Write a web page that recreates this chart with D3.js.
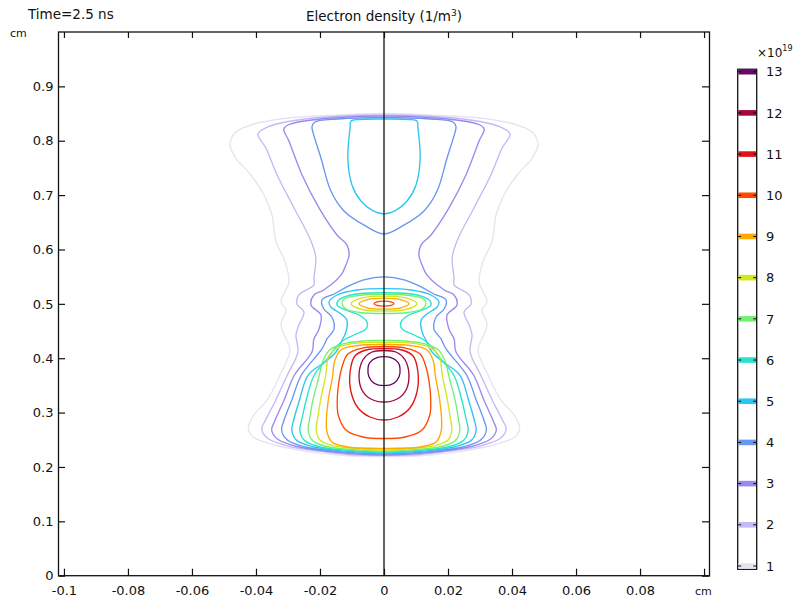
<!DOCTYPE html>
<html>
<head>
<meta charset="utf-8">
<script src="https://cdn.jsdelivr.net/npm/d3@7/dist/d3.min.js"></script>
<style>
body { margin: 0; background: #fff; }
text { font-family: "DejaVu Sans", sans-serif; fill: #111; }
</style>
</head>
<body>
<div id="chart"></div>
<script>
// tick values / labels (last x label is replaced by the unit "cm")
var xTicks = [-0.1, -0.08, -0.06, -0.04, -0.02, 0, 0.02, 0.04, 0.06, 0.08, 0.1];
var xTickLabels = ["-0.1", "-0.08", "-0.06", "-0.04", "-0.02", "0", "0.02", "0.04", "0.06", "0.08", ""];
var yTicks = [0, 0.1, 0.2, 0.3, 0.4, 0.5, 0.6, 0.7, 0.8, 0.9];
var yTickLabels = ["0", "0.1", "0.2", "0.3", "0.4", "0.5", "0.6", "0.7", "0.8", "0.9"];

// contour levels (x10^19 1/m3) and colours
var levels = [1, 2, 3, 4, 5, 6, 7, 8, 9, 10, 11, 12, 13];
var levelColors = ["#e6e3f2", "#c6b8f4", "#9c88f0", "#6a96f2", "#2cc4f2", "#26e4cc",
  "#74f070", "#d4e61e", "#ffa800", "#ff4a00", "#e01418", "#a0083e", "#680a6a"];

// contour shapes: right half [r (cm), z (cm)], from top on axis to bottom on axis
var c1 = [[0, 0.8501], [0.0175, 0.8464], [0.0313, 0.8409], [0.0416, 0.8289], [0.0466, 0.8142], [0.0481, 0.7921],
  [0.0463, 0.7682], [0.0416, 0.7369], [0.0375, 0.7002], [0.0350, 0.6635], [0.0338, 0.6157], [0.0309, 0.5771],
  [0.0297, 0.5403], [0.0313, 0.5181], [0.0322, 0.5034], [0.0306, 0.4887], [0.0322, 0.4630], [0.0313, 0.4446],
  [0.0294, 0.4151], [0.0325, 0.3691], [0.0365, 0.3232], [0.0406, 0.2956], [0.0424, 0.2717], [0.0409, 0.2551],
  [0.0353, 0.2422], [0.0250, 0.2294], [0.0125, 0.2211], [0, 0.2192]];
var c2 = [[0, 0.8473], [0.0269, 0.8381], [0.0363, 0.8253], [0.0394, 0.8123], [0.0369, 0.7866], [0.0334, 0.7369],
  [0.0281, 0.6764], [0.0228, 0.6157], [0.0213, 0.5845], [0.0219, 0.5477], [0.0219, 0.5348], [0.0266, 0.5163],
  [0.0272, 0.4997], [0.0250, 0.4850], [0.0266, 0.4611], [0.0275, 0.4427], [0.0269, 0.4114], [0.0302, 0.3691],
  [0.0338, 0.3232], [0.0370, 0.2864], [0.0382, 0.2698], [0.0365, 0.2533], [0.0300, 0.2385], [0.0206, 0.2294],
  [0.0113, 0.2229], [0, 0.2211]];
var c3 = [[0, 0.8455], [0.0238, 0.8372], [0.0300, 0.8289], [0.0313, 0.8216], [0.0297, 0.7994], [0.0256, 0.7369],
  [0.0203, 0.6764], [0.0147, 0.6267], [0.0116, 0.6084], [0.0109, 0.5900], [0.0119, 0.5716], [0.0134, 0.5532],
  [0.0188, 0.5255], [0.0219, 0.5163], [0.0228, 0.4979], [0.0197, 0.4795], [0.0203, 0.4538], [0.0219, 0.4354],
  [0.0225, 0.4114], [0.0280, 0.3691], [0.0312, 0.3232], [0.0340, 0.2864], [0.0351, 0.2680], [0.0333, 0.2514],
  [0.0272, 0.2376], [0.0175, 0.2284], [0, 0.2220]];
var c4top = [[0, 0.8428], [0.0144, 0.8400], [0.0216, 0.8344], [0.0225, 0.8253], [0.0222, 0.8160], [0.0197, 0.7682],
  [0.0166, 0.7076], [0.0125, 0.6709], [0.0063, 0.6451], [0, 0.6285]];
var c4low = [[0, 0.5495], [0.0063, 0.5440], [0.0116, 0.5311], [0.0156, 0.5181], [0.0194, 0.5071], [0.0188, 0.4905],
  [0.0163, 0.4758], [0.0156, 0.4538], [0.0178, 0.4354], [0.0194, 0.4170], [0.0258, 0.3691], [0.0288, 0.3232],
  [0.0312, 0.2864], [0.0320, 0.2680], [0.0302, 0.2496], [0.0245, 0.2367], [0.0130, 0.2275], [0, 0.2238]];
var c5top = [[0, 0.8400], [0.0081, 0.8391], [0.0103, 0.8363], [0.0106, 0.8234], [0.0113, 0.7682], [0.0100, 0.7186],
  [0.0072, 0.6892], [0.0034, 0.6709], [0, 0.6653]];
var c5low = [[0, 0.5279], [0.0084, 0.5255], [0.0147, 0.5163], [0.0172, 0.5034], [0.0166, 0.4942], [0.0134, 0.4813],
  [0.0116, 0.4703], [0.0119, 0.4482], [0.0134, 0.4298], [0.0150, 0.4114], [0.0185, 0.3930], [0.0237, 0.3691],
  [0.0264, 0.3232], [0.0282, 0.2864], [0.0288, 0.2680], [0.0274, 0.2496], [0.0225, 0.2376], [0.0120, 0.2290],
  [0, 0.2257]];
var c6 = [[0, 0.5205], [0.0103, 0.5163], [0.0141, 0.5071], [0.0147, 0.4979], [0.0119, 0.4887], [0.0078, 0.4795],
  [0.0053, 0.4666], [0.0056, 0.4538], [0.0094, 0.4427], [0.0125, 0.4335], [0.0147, 0.4225], [0.0180, 0.3967],
  [0.0218, 0.3691], [0.0243, 0.3232], [0.0257, 0.2864], [0.0263, 0.2680], [0.0250, 0.2496], [0.0205, 0.2376],
  [0.0110, 0.2303], [0, 0.2275]];
var c7mid = [[0, 0.5177], [0.0081, 0.5154], [0.0125, 0.5089], [0.0131, 0.4997], [0.0119, 0.4905], [0.0075, 0.4841], [0, 0.4823]];
var c7low = [[0, 0.4326], [0.0066, 0.4317], [0.0128, 0.4262], [0.0170, 0.4151], [0.0192, 0.3930], [0.0202, 0.3691],
  [0.0222, 0.3232], [0.0233, 0.2864], [0.0237, 0.2680], [0.0225, 0.2496], [0.0180, 0.2376], [0.0090, 0.2317], [0, 0.2294]];
var c8mid = [[0, 0.5141], [0.0073, 0.5101], [0.0103, 0.5003], [0.0073, 0.4905], [0, 0.4865]];
var c8low = [[0, 0.4289], [0.0081, 0.4280], [0.0140, 0.4206], [0.0172, 0.4041], [0.0182, 0.3691], [0.0198, 0.3232],
  [0.0208, 0.2864], [0.0212, 0.2680], [0.0200, 0.2496], [0.0160, 0.2394], [0.0080, 0.2335], [0, 0.2312]];
var c9mid = [[0, 0.5104], [0.0055, 0.5074], [0.0078, 0.5003], [0.0055, 0.4932], [0, 0.4902]];
var c9low = [[0, 0.4252], [0.0081, 0.4234], [0.0135, 0.4151], [0.0155, 0.3930], [0.0160, 0.3691], [0.0174, 0.3232],
  [0.0180, 0.2864], [0.0178, 0.2643], [0.0163, 0.2459], [0.0113, 0.2367], [0, 0.2340]];
var c10mid = [[0, 0.5049], [0.0022, 0.5036], [0.0031, 0.5003], [0.0022, 0.4970], [0, 0.4957]];
var c10low = [[0, 0.4216], [0.0066, 0.4188], [0.0113, 0.4077], [0.0132, 0.3820], [0.0140, 0.3600], [0.0146, 0.3232],
  [0.0143, 0.2956], [0.0119, 0.2680], [0.0066, 0.2551], [0, 0.2523]];
var c11 = [[0, 0.4179], [0.0056, 0.4151], [0.0091, 0.4041], [0.0106, 0.3747], [0.0103, 0.3379], [0.0081, 0.3084],
  [0.0044, 0.2919], [0, 0.2864]];
var c12 = [[0, 0.4142], [0.0041, 0.4105], [0.0066, 0.3967], [0.0078, 0.3691], [0.0069, 0.3416], [0.0041, 0.3250], [0, 0.3195]];
var c13 = [[0, 0.4028], [0.0022, 0.4010], [0.0044, 0.3925], [0.0050, 0.3815], [0.0047, 0.3660], [0.0031, 0.3539], [0, 0.3495]];

var contours = [
  {level: 1, pts: c1}, {level: 2, pts: c2}, {level: 3, pts: c3},
  {level: 4, pts: c4top}, {level: 4, pts: c4low},
  {level: 5, pts: c5top}, {level: 5, pts: c5low},
  {level: 6, pts: c6},
  {level: 7, pts: c7mid}, {level: 7, pts: c7low},
  {level: 8, pts: c8mid}, {level: 8, pts: c8low},
  {level: 9, pts: c9mid}, {level: 9, pts: c9low},
  {level: 10, pts: c10mid}, {level: 10, pts: c10low},
  {level: 11, pts: c11}, {level: 12, pts: c12}, {level: 13, pts: c13}
];

var svgWidth = 801;
var svgHeight = 603;

var svg = d3.select("#chart")
  .append("svg")
  .attr("width", svgWidth)
  .attr("height", svgHeight);

var x = d3.scaleLinear().domain([-0.1017, 0.1017]).range([58.5, 709.5]);
var y = d3.scaleLinear().domain([0, 1]).range([575.7, 32]);

var color = d3.scaleOrdinal().domain(levels).range(levelColors);

svg.append("clipPath").attr("id", "plotclip")
  .append("rect")
  .attr("x", x.range()[0]).attr("y", y.range()[1])
  .attr("width", x.range()[1] - x.range()[0])
  .attr("height", y.range()[0] - y.range()[1]);

// mirror the right half to make a closed loop
function fullLoop(half) {
  var left = half.slice(1, half.length - 1).map(function(d) { return [-d[0], d[1]]; }).reverse();
  return half.concat(left);
}

var line = d3.line()
  .x(function(d) { return x(d[0]); })
  .y(function(d) { return y(d[1]); })
  .curve(d3.curveCatmullRomClosed.alpha(0.5));

svg.append("g")
  .attr("clip-path", "url(#plotclip)")
  .selectAll("path")
  .data(contours)
  .enter()
  .append("path")
  .attr("d", function(d) { return line(fullLoop(d.pts)); })
  .attr("fill", "none")
  .attr("stroke", function(d) { return color(d.level); })
  .attr("stroke-width", 1.35);

// symmetry axis
svg.append("line")
  .attr("x1", x(0)).attr("x2", x(0))
  .attr("y1", y(0)).attr("y2", y(1))
  .attr("stroke", "#111")
  .attr("stroke-width", 1.3);

// axes
var gx = svg.append("g").attr("transform", "translate(0," + y(0) + ")")
  .call(d3.axisBottom(x).tickValues(xTicks).tickSizeInner(-7).tickSizeOuter(0).tickPadding(10)
    .tickFormat(function(d, i) { return xTickLabels[i]; }));
var gy = svg.append("g").attr("transform", "translate(" + x.range()[0] + ",0)")
  .call(d3.axisLeft(y).tickValues(yTicks).tickSizeInner(-6.5).tickSizeOuter(0).tickPadding(5)
    .tickFormat(function(d, i) { return yTickLabels[i]; }));
var gt = svg.append("g").attr("transform", "translate(0," + y(1) + ")")
  .call(d3.axisTop(x).tickValues(xTicks).tickSizeInner(-6).tickSizeOuter(0).tickFormat(""));
var gr = svg.append("g").attr("transform", "translate(" + x.range()[1] + ",0)")
  .call(d3.axisRight(y).tickValues(yTicks).tickSizeInner(-7.5).tickSizeOuter(0).tickFormat(""));

[gx, gy, gt, gr].forEach(function(g) {
  g.select(".domain").remove();
  g.selectAll(".tick line").attr("stroke", "#111").attr("stroke-width", 1.2);
  g.selectAll(".tick text").attr("font-size", 13).attr("font-family", "DejaVu Sans").attr("fill", "#111");
});

svg.append("rect")
  .attr("x", x.range()[0]).attr("y", y.range()[1])
  .attr("width", x.range()[1] - x.range()[0])
  .attr("height", y.range()[0] - y.range()[1])
  .attr("fill", "none")
  .attr("stroke", "#111")
  .attr("stroke-width", 1.3);

// titles
svg.append("text").attr("x", 28).attr("y", 18.5).attr("font-size", 13.5).text("Time=2.5 ns");
var title = svg.append("text").attr("x", 384).attr("y", 21).attr("font-size", 13.5).attr("text-anchor", "middle");
title.append("tspan").text("Electron density (1/m");
title.append("tspan").attr("font-size", 9).attr("dy", -5).text("3");
title.append("tspan").attr("dy", 5).text(")");

svg.append("text").attr("x", 10).attr("y", 36.5).attr("font-size", 11).text("cm");
svg.append("text").attr("x", 695).attr("y", 595).attr("font-size", 11).text("cm");

// colour legend
var cb = d3.scaleLinear().domain([1, 13]).range([566, 71.7]);
var cbX = 737.7, cbW = 19;

var leg = svg.append("g");
leg.append("rect")
  .attr("x", cbX).attr("y", 69.3).attr("width", cbW).attr("height", 500)
  .attr("fill", "#fff").attr("stroke", "#111").attr("stroke-width", 1.3);

leg.selectAll("rect.band")
  .data(levels)
  .enter()
  .append("rect")
  .attr("class", "band")
  .attr("x", cbX + 0.7).attr("width", cbW - 1.4)
  .attr("y", function(d) { return cb(d) - 2.8; })
  .attr("height", 5.6)
  .attr("fill", function(d) { return color(d); });

leg.selectAll("line.tl")
  .data(levels).enter().append("line").attr("class", "tl")
  .attr("x1", cbX).attr("x2", cbX + 3.5)
  .attr("y1", function(d) { return cb(d); }).attr("y2", function(d) { return cb(d); })
  .attr("stroke", "#111").attr("stroke-width", 1);
leg.selectAll("line.tr")
  .data(levels).enter().append("line").attr("class", "tr")
  .attr("x1", cbX + cbW - 3.5).attr("x2", cbX + cbW)
  .attr("y1", function(d) { return cb(d); }).attr("y2", function(d) { return cb(d); })
  .attr("stroke", "#111").attr("stroke-width", 1);

leg.selectAll("text.lab")
  .data(levels).enter().append("text").attr("class", "lab")
  .attr("x", 766).attr("y", function(d) { return cb(d); })
  .attr("dy", "0.36em")
  .attr("font-size", 13)
  .text(function(d) { return d; });

var mult = leg.append("text").attr("x", 757).attr("y", 57).attr("font-size", 12);
mult.append("tspan").text("\u00d710");
mult.append("tspan").attr("font-size", 8).attr("dy", -6).text("19");
</script>
</body>
</html>
